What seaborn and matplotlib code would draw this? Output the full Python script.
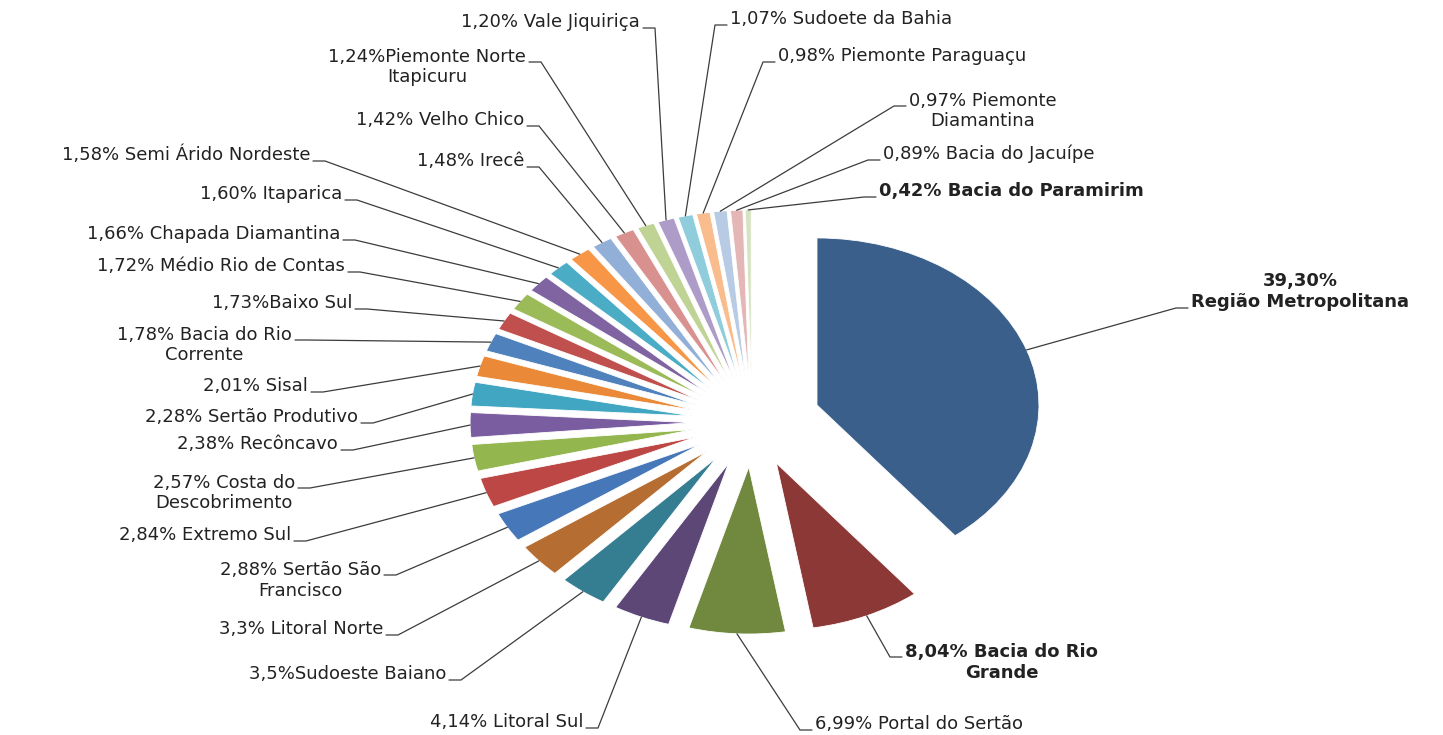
"""Exploded pie: share of each territory of Bahia, with leader-line labels."""

import matplotlib.pyplot as plt
import numpy as np
import seaborn as sns

regions = [
    "Região Metropolitana", "Bacia do Rio Grande", "Portal do Sertão", "Litoral Sul",
    "Sudoeste Baiano", "Litoral Norte", "Sertão São Francisco", "Extremo Sul",
    "Costa do Descobrimento", "Recôncavo", "Sertão Produtivo", "Sisal",
    "Bacia do Rio Corrente", "Baixo Sul", "Médio Rio de Contas", "Chapada Diamantina",
    "Itaparica", "Semi Árido Nordeste", "Irecê", "Velho Chico",
    "Piemonte Norte Itapicuru", "Vale Jiquiriça", "Sudoete da Bahia", "Piemonte Paraguaçu",
    "Piemonte Diamantina", "Bacia do Jacuípe", "Bacia do Paramirim",
]
shares = [
    39.30, 8.04, 6.99, 4.14, 3.5, 3.3, 2.88, 2.84, 2.57, 2.38, 2.28, 2.01, 1.78, 1.73,
    1.72, 1.66, 1.60, 1.58, 1.48, 1.42, 1.24, 1.20, 1.07, 0.98, 0.97, 0.89, 0.42,
]
# label strings as printed on the chart (line breaks included)
label_text = [
    "39,30%\nRegião Metropolitana", "8,04% Bacia do Rio\nGrande", "6,99% Portal do Sertão",
    "4,14% Litoral Sul", "3,5%Sudoeste Baiano", "3,3% Litoral Norte",
    "2,88% Sertão São\nFrancisco", "2,84% Extremo Sul", "2,57% Costa do\nDescobrimento",
    "2,38% Recôncavo", "2,28% Sertão Produtivo", "2,01% Sisal",
    "1,78% Bacia do Rio\nCorrente", "1,73%Baixo Sul", "1,72% Médio Rio de Contas",
    "1,66% Chapada Diamantina", "1,60% Itaparica", "1,58% Semi Árido Nordeste",
    "1,48% Irecê", "1,42% Velho Chico", "1,24%Piemonte Norte\nItapicuru",
    "1,20% Vale Jiquiriça", "1,07% Sudoete da Bahia", "0,98% Piemonte Paraguaçu",
    "0,97% Piemonte\nDiamantina", "0,89% Bacia do Jacuípe", "0,42% Bacia do Paramirim",
]
bold_regions = ["Região Metropolitana", "Bacia do Rio Grande", "Bacia do Paramirim"]

colors = [
    "#3A5F8B", "#8C3836", "#71893F", "#5C4776", "#357D91", "#B66D31",
    "#4677B8", "#BC4744", "#93B64E", "#7A5CA0", "#41A6C2", "#EA8A38",
    "#4F81BD", "#C0504D", "#9BBB59", "#8064A2", "#4BACC6", "#F79646",
    "#92AFD8", "#D8918F", "#BFD395", "#AE9CC8", "#8FCCDC", "#F9BC8C",
    "#B7CBE5", "#E4B6B6", "#D5E3C0",
]

# layout: (x, y) in pixels where the leader line leaves the text, side of the text,
# and which text row the line is attached to
layout = [
    (1188, 308, "R", 1), (902, 657, "R", 0), (812, 730, "R", 0), (586, 728, "L", 0),
    (449, 680, "L", 0), (386, 635, "L", 0), (384, 575, "L", 0), (294, 541, "L", 0),
    (298, 488, "L", 0), (341, 450, "L", 0), (361, 423, "L", 0), (311, 392, "L", 0),
    (295, 340, "L", 0), (355, 309, "L", 0), (348, 272, "L", 0), (343, 240, "L", 0),
    (345, 200, "L", 0), (313, 161, "L", 0), (527, 167, "L", 0), (527, 126, "L", 0),
    (529, 62, "L", 0), (643, 28, "L", 0), (727, 25, "R", 0), (775, 62, "R", 0),
    (906, 106, "R", 0), (880, 160, "R", 0), (876, 197, "R", 0),
]

W, H = 1443, 735
CX, CY = 752, 422   # pie centre in pixels
SX, SY = 222, 167   # pixels per unit radius (chart is stretched horizontally)
LINE = 21.5         # text line pitch in pixels


def px(x, y):
    return (x - CX) / SX, (CY - y) / SY


sns.set_style("white")
plt.rcParams["font.family"] = ["DejaVu Sans"]

fig = plt.figure(figsize=(W / 100, H / 100), dpi=100)
ax = fig.add_axes([0, 0, 1, 1])

explode = [0.31] + [0.27] * (len(shares) - 1)
wedges, _ = ax.pie(
    shares,
    colors=colors,
    explode=explode,
    startangle=90,
    counterclock=False,
    radius=1,
    wedgeprops=dict(linewidth=0.6, edgecolor="white"),
)
ax.set_aspect("auto")
ax.set_xlim(-CX / SX, (W - CX) / SX)
ax.set_ylim((CY - H) / SY, CY / SY)
ax.axis("off")

for w, name, txt, (lx, ly, side, row) in zip(wedges, regions, label_text, layout):
    mid = np.deg2rad((w.theta1 + w.theta2) / 2)
    ex = w.center[0] + w.r * np.cos(mid)
    ey = w.center[1] + w.r * np.sin(mid)
    step = 12 if side == "L" else -12
    x0, y0 = px(lx, ly)
    x1, y1 = px(lx + step, ly)
    ax.plot([x0, x1, ex], [y0, y1, ey], color="#3c3c3c", lw=0.9)

    # va="baseline" pins the last text row, so shift to the attached row
    n_rows = txt.count("\n") + 1
    tx = lx - 3 if side == "L" else lx + 3
    ty = ly - 1 + (n_rows - 1 - row) * LINE
    ax.text(
        *px(tx, ty), txt,
        ha="right" if side == "L" else "left",
        va="baseline",
        multialignment="center",
        fontsize=13,
        fontweight="bold" if name in bold_regions else "normal",
        color="#222222",
    )

fig.savefig("out.png", dpi=100, facecolor="white")
print("Saved out.png")
